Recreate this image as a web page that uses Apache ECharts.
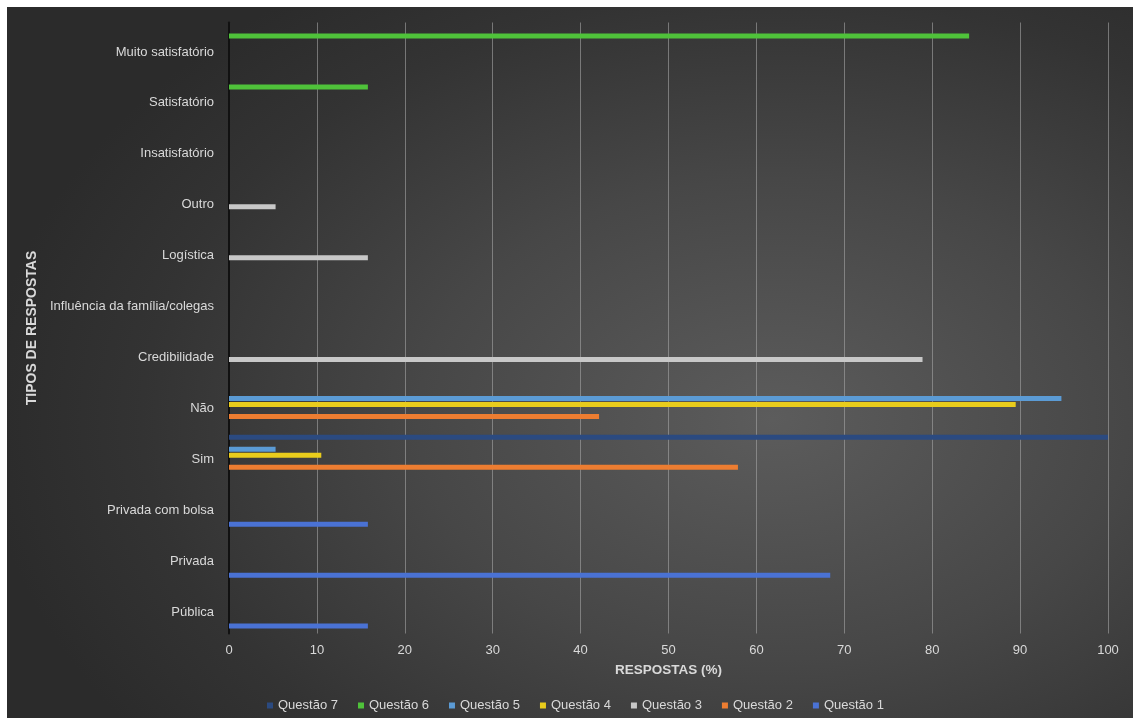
<!DOCTYPE html>
<html>
<head>
<meta charset="utf-8">
<script src="https://cdn.jsdelivr.net/npm/echarts@6/dist/echarts.min.js"></script>
<style>
html,body{margin:0;padding:0;background:#fff;width:1133px;height:718px;overflow:hidden;}
#c{position:absolute;left:7px;top:7px;width:1126px;height:711px;
background:radial-gradient(ellipse 70% 75% at 68% 58%, #5c5c5c 0%, #474747 45%, #333333 80%, #2b2b2b 100%);}
</style>
</head>
<body>
<div id="c"></div>
<script>
const categories = ['Pública','Privada','Privada com bolsa','Sim','Não','Credibilidade','Influência da família/colegas','Logística','Outro','Insatisfatório','Satisfatório','Muito satisfatório'];
const seriesNames = ['Questão 7','Questão 6','Questão 5','Questão 4','Questão 3','Questão 2','Questão 1'];
const q7 = [null,null,null,100,null,null,null,null,null,null,null,null];
const q6 = [null,null,null,null,null,null,null,null,null,0,15.8,84.2];
const q5 = [null,null,null,5.3,94.7,null,null,null,null,null,null,null];
const q4 = [null,null,null,10.5,89.5,null,null,null,null,null,null,null];
const q3 = [null,null,null,null,null,78.9,0,15.8,5.3,null,null,null];
const q2 = [null,null,null,57.9,42.1,null,null,null,null,null,null,null];
const q1 = [15.8,68.4,15.8,null,null,null,null,null,null,null,null,null];
const xTicks = [0,10,20,30,40,50,60,70,80,90,100];
const colors = ['#2b4a80','#4fc23a','#5b9bd5','#e9cc1c','#c8c8c8','#ed7d31','#4a72d4'];

const chart = echarts.init(document.getElementById('c'), null, {renderer:'canvas'});
const seriesData = [q7,q6,q5,q4,q3,q2,q1];
const series = seriesNames.map((n,i)=>({
  name:n, type:'bar', data:seriesData[i], barWidth:5, barGap:'20%',
  itemStyle:{color:colors[i]}
}));
chart.setOption({
  animation:false,
  color:colors,
  textStyle:{fontFamily:'Liberation Sans, Arial, sans-serif'},
  grid:{left:222,right:25,top:15.5,bottom:84.5,containLabel:false},
  legend:{
    data:seriesNames, bottom:1, left:255, itemWidth:6, itemHeight:6, itemGap:20,
    icon:'rect', textStyle:{color:'#d9d9d9',fontSize:13}
  },
  xAxis:{
    type:'value', min:0, max:100, interval:10,
    name:'RESPOSTAS (%)', nameLocation:'middle', nameGap:30,
    nameTextStyle:{color:'#d9d9d9',fontSize:13.5,fontWeight:'bold'},
    axisLine:{show:false}, axisTick:{show:false},
    axisLabel:{color:'#d9d9d9',fontSize:13,margin:10,formatter:v=>xTicks.includes(v)?String(v):''},
    splitLine:{show:true,lineStyle:{color:'rgba(165,165,165,0.6)',width:1}}
  },
  yAxis:{
    type:'category', data:categories,
    name:'TIPOS DE RESPOSTAS', nameLocation:'middle', nameGap:190, nameRotate:90,
    nameTextStyle:{color:'#d9d9d9',fontSize:14,fontWeight:'bold'},
    axisLine:{show:true,lineStyle:{color:'#111',width:2}},
    axisTick:{show:false},
    axisLabel:{color:'#d9d9d9',fontSize:13,margin:15,
      formatter:v=>'{a|'+v+'}',
      rich:{a:{color:'#d9d9d9',fontSize:13,padding:[8,0,0,0]}}},
    splitLine:{show:false}
  },
  series:series
});
</script>
</body>
</html>
